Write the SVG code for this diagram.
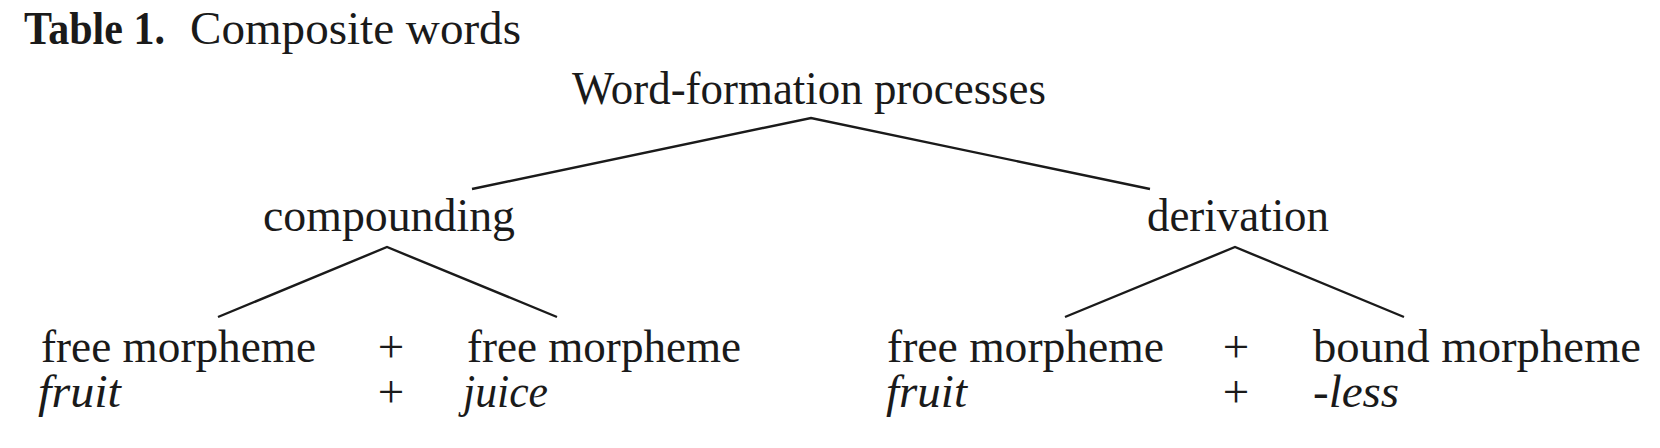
<svg xmlns="http://www.w3.org/2000/svg" width="1660" height="448" viewBox="0 0 1660 448">
<style>
text{font-family:"Liberation Serif","Times New Roman",serif;font-size:47px;fill:#1a1a1a}
.it{font-style:italic}
.b{font-weight:bold}
.mid{text-anchor:middle}
.edge{stroke:#1a1a1a;stroke-width:2.4;fill:none;stroke-linejoin:miter}
</style>
<rect width="1660" height="448" fill="#ffffff"/>
<g id="title">
<text class="b" x="24" y="44" textLength="141" lengthAdjust="spacingAndGlyphs">Table 1.</text>
<text x="190" y="44" textLength="331" lengthAdjust="spacingAndGlyphs">Composite words</text>
</g>
<g id="connectors">
<polyline class="edge" points="472,189 811,118 1150,189"/>
<polyline class="edge" points="218,317 387,247 557,317"/>
<polyline class="edge" points="1065,317 1235,247 1404,317"/>
</g>
<g id="root">
<text x="572" y="104" textLength="474" lengthAdjust="spacingAndGlyphs">Word-formation processes</text>
</g>
<g id="compounding">
<text x="263" y="231" textLength="252" lengthAdjust="spacingAndGlyphs">compounding</text>
</g>
<g id="derivation">
<text x="1147" y="231" textLength="182" lengthAdjust="spacingAndGlyphs">derivation</text>
</g>
<g id="compound-parts">
<text x="41" y="362" textLength="275" lengthAdjust="spacingAndGlyphs">free morpheme</text>
<text class="mid" x="391" y="362">+</text>
<text x="467" y="362" textLength="274" lengthAdjust="spacingAndGlyphs">free morpheme</text>
<text class="it" x="38" y="407" textLength="83" lengthAdjust="spacingAndGlyphs">fruit</text>
<text class="mid" x="391" y="407">+</text>
<text class="it" x="463" y="407" textLength="85" lengthAdjust="spacingAndGlyphs">juice</text>
</g>
<g id="derivation-parts">
<text x="887" y="362" textLength="277" lengthAdjust="spacingAndGlyphs">free morpheme</text>
<text class="mid" x="1236" y="362">+</text>
<text x="1313" y="362" textLength="328" lengthAdjust="spacingAndGlyphs">bound morpheme</text>
<text class="it" x="886" y="407" textLength="81" lengthAdjust="spacingAndGlyphs">fruit</text>
<text class="mid" x="1236" y="407">+</text>
<text x="1313" y="407">-<tspan class="it">less</tspan></text>
</g>
</svg>
